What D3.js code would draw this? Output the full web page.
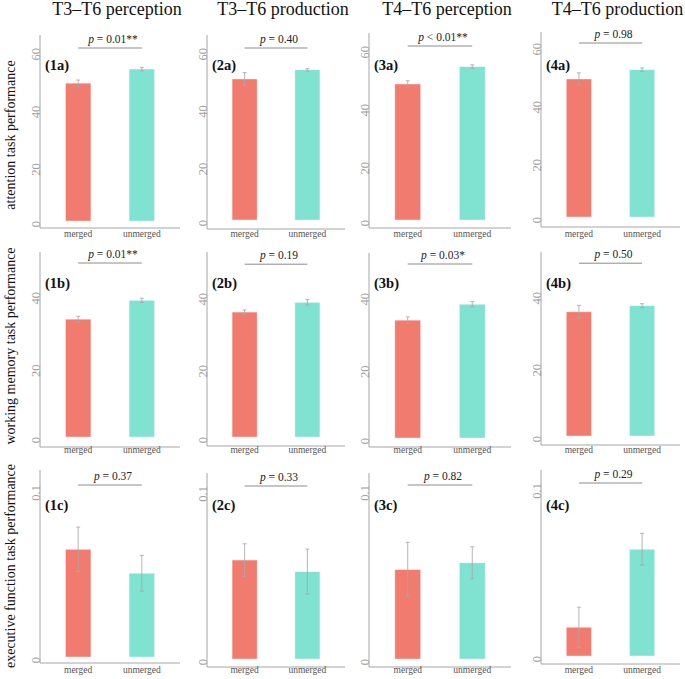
<!DOCTYPE html>
<html><head><meta charset="utf-8">
<script src="https://cdn.jsdelivr.net/npm/d3@7"></script>
<style>body{margin:0;background:#fff}</style>
</head><body><svg id="c" width="685" height="679"></svg>
<script>
// ---------- data ----------
const columnTitles = ["T3\u2013T6 perception", "T3\u2013T6 production", "T4\u2013T6 perception", "T4\u2013T6 production"];
const rowTitles = ["attention task performance", "working memory task performance", "executive function task performance"];
const categories = ["merged", "unmerged"];
const attentionMeans = [[47.8, 52.7], [49.2, 52.4], [46.9, 52.9], [47.6, 50.8]];
const attentionErrors = [[1.1, 0.6], [2.2, 0.4], [1.1, 0.6], [2.1, 0.6]];
const memoryMeans = [[32.5, 37.7], [34.7, 37.4], [32.5, 36.9], [34.5, 36.2]];
const memoryErrors = [[0.8, 0.6], [0.6, 0.75], [0.9, 0.7], [1.8, 0.55]];
const executiveMeans = [[0.0626, 0.0487], [0.0572, 0.0505], [0.0514, 0.0553], [0.0166, 0.0617]];
const executiveErrors = [[0.0129, 0.0104], [0.0094, 0.013], [0.0156, 0.0092], [0.0116, 0.0092]];
const attentionP = ["= 0.01**", "= 0.40", "< 0.01**", "= 0.98"];
const memoryP = ["= 0.01**", "= 0.19", "= 0.03*", "= 0.50"];
const executiveP = ["= 0.37", "= 0.33", "= 0.82", "= 0.29"];
const attentionTicks = [0, 20, 40, 60];
const memoryTicks = [0, 20, 40];
const executiveTicks = [0, 0.1];
const bracketLevels = [60, 48, 0.1];
const panelLetters = ["a", "b", "c"];

const rows = [
  {means: attentionMeans, errs: attentionErrors, p: attentionP, ticks: attentionTicks, ref: 60},
  {means: memoryMeans, errs: memoryErrors, p: memoryP, ticks: memoryTicks, ref: 40},
  {means: executiveMeans, errs: executiveErrors, p: executiveP, ticks: executiveTicks, ref: 0.1}
];

// ---------- layout ----------
const colLeft = [40, 207, 369, 541];
const colRight = [180, 345, 511, 680];
const rowLayout = [
  {y0: [221, 220, 220, 217], yRef: [48, 48, 46, 43], top: [35, 35, 33, 32], base: [228, 229, 228, 227], catY: 237, labY: 70, titleY: 135},
  {y0: [437, 437, 438, 436], yRef: [292, 293, 293, 292], top: [252, 252, 253, 252], base: [447, 446, 447, 445], catY: 453, labY: 288, titleY: 346},
  {y0: [657, 659, 659, 656], yRef: [485, 486, 485, 483], top: [470, 473, 473, 470], base: [663, 667, 667, 664], catY: 673, labY: 510, titleY: 566}
];
const colors = {merged: "#F27B6F", unmerged: "#80E2D1"};
const axisColor = "#a6a6a6";
const FONT = '"Liberation Serif", "Times New Roman", serif';

const svg = d3.select("#c");
function txt(sel) { return sel.append("text").style("font-family", FONT); }

// column titles
columnTitles.forEach((t, c) => {
  txt(svg).attr("x", (colLeft[c] + colRight[c]) / 2 + 7).attr("y", 15)
    .attr("text-anchor", "middle").attr("font-size", 18).attr("fill", "#111").text(t);
});

// row titles
rowTitles.forEach((t, r) => {
  txt(svg).attr("transform", `translate(15,${rowLayout[r].titleY}) rotate(-90)`)
    .attr("text-anchor", "middle").attr("font-size", 14).attr("fill", "#111").text(t);
});

rows.forEach((row, r) => {
  const L = rowLayout[r];
  for (let c = 0; c < 4; c++) {
    const g = svg.append("g");
    const x = d3.scalePoint().domain(categories).range([colLeft[c], colRight[c]]).padding(0.6);
    const y = d3.scaleLinear().domain([0, row.ref]).range([L.y0[c], L.yRef[c]]);
    const bw = x.step() * 0.4;

    // axes lines
    g.append("line").attr("x1", colLeft[c]).attr("x2", colLeft[c]).attr("y1", L.top[c]).attr("y2", L.base[c])
      .attr("stroke", axisColor).attr("stroke-width", 1);
    g.append("line").attr("x1", colLeft[c]).attr("x2", colRight[c]).attr("y1", L.base[c]).attr("y2", L.base[c])
      .attr("stroke", axisColor).attr("stroke-width", 1);

    // y tick labels (rotated)
    row.ticks.forEach(tv => {
      txt(g).attr("transform", `translate(${colLeft[c] - 0.5},${y(tv)}) rotate(-90)`)
        .attr("text-anchor", "end").attr("font-size", 12.5).attr("fill", "#a0a0a0").text(String(tv));
    });

    // category labels
    categories.forEach(cat => {
      txt(g).attr("x", x(cat)).attr("y", L.catY).attr("text-anchor", "middle")
        .attr("font-size", 9.5).attr("fill", "#555").text(cat);
    });

    // bars
    categories.forEach((cat, i) => {
      const v = row.means[c][i];
      g.append("rect").attr("x", x(cat) - bw / 2).attr("y", y(v)).attr("width", bw)
        .attr("height", y(0) - y(v)).attr("fill", colors[cat])
        .attr("stroke", "#fff").attr("stroke-opacity", 0.5).attr("stroke-width", 0.8);
    });

    // error bars
    categories.forEach((cat, i) => {
      const v = row.means[c][i], e = row.errs[c][i], cx = x(cat);
      const eg = g.append("g").attr("stroke", "#a8a8a8").attr("stroke-width", 1).attr("stroke-opacity", 0.85);
      eg.append("line").attr("x1", cx).attr("x2", cx).attr("y1", y(v + e)).attr("y2", y(v - e));
      eg.append("line").attr("x1", cx - 2).attr("x2", cx + 2).attr("y1", y(v + e)).attr("y2", y(v + e));
      eg.append("line").attr("x1", cx - 2).attr("x2", cx + 2).attr("y1", y(v - e)).attr("y2", y(v - e));
    });

    // significance bracket
    const by = y(bracketLevels[r]);
    g.append("line").attr("x1", x(categories[0])).attr("x2", x(categories[1])).attr("y1", by).attr("y2", by)
      .attr("stroke", "#8c8c8c").attr("stroke-width", 1);
    const pt = txt(g).attr("x", (x(categories[0]) + x(categories[1])) / 2 + 3).attr("y", by - 5)
      .attr("text-anchor", "middle").attr("font-size", 11.5).attr("fill", "#222");
    pt.append("tspan").attr("font-style", "italic").text("p");
    pt.append("tspan").text(" " + row.p[c]);

    // panel label
    txt(g).attr("x", colLeft[c] + 5).attr("y", L.labY).attr("font-size", 14.5)
      .attr("font-weight", "bold").attr("fill", "#111").text(`(${c + 1}${panelLetters[r]})`);
  }
});
</script></body></html>
